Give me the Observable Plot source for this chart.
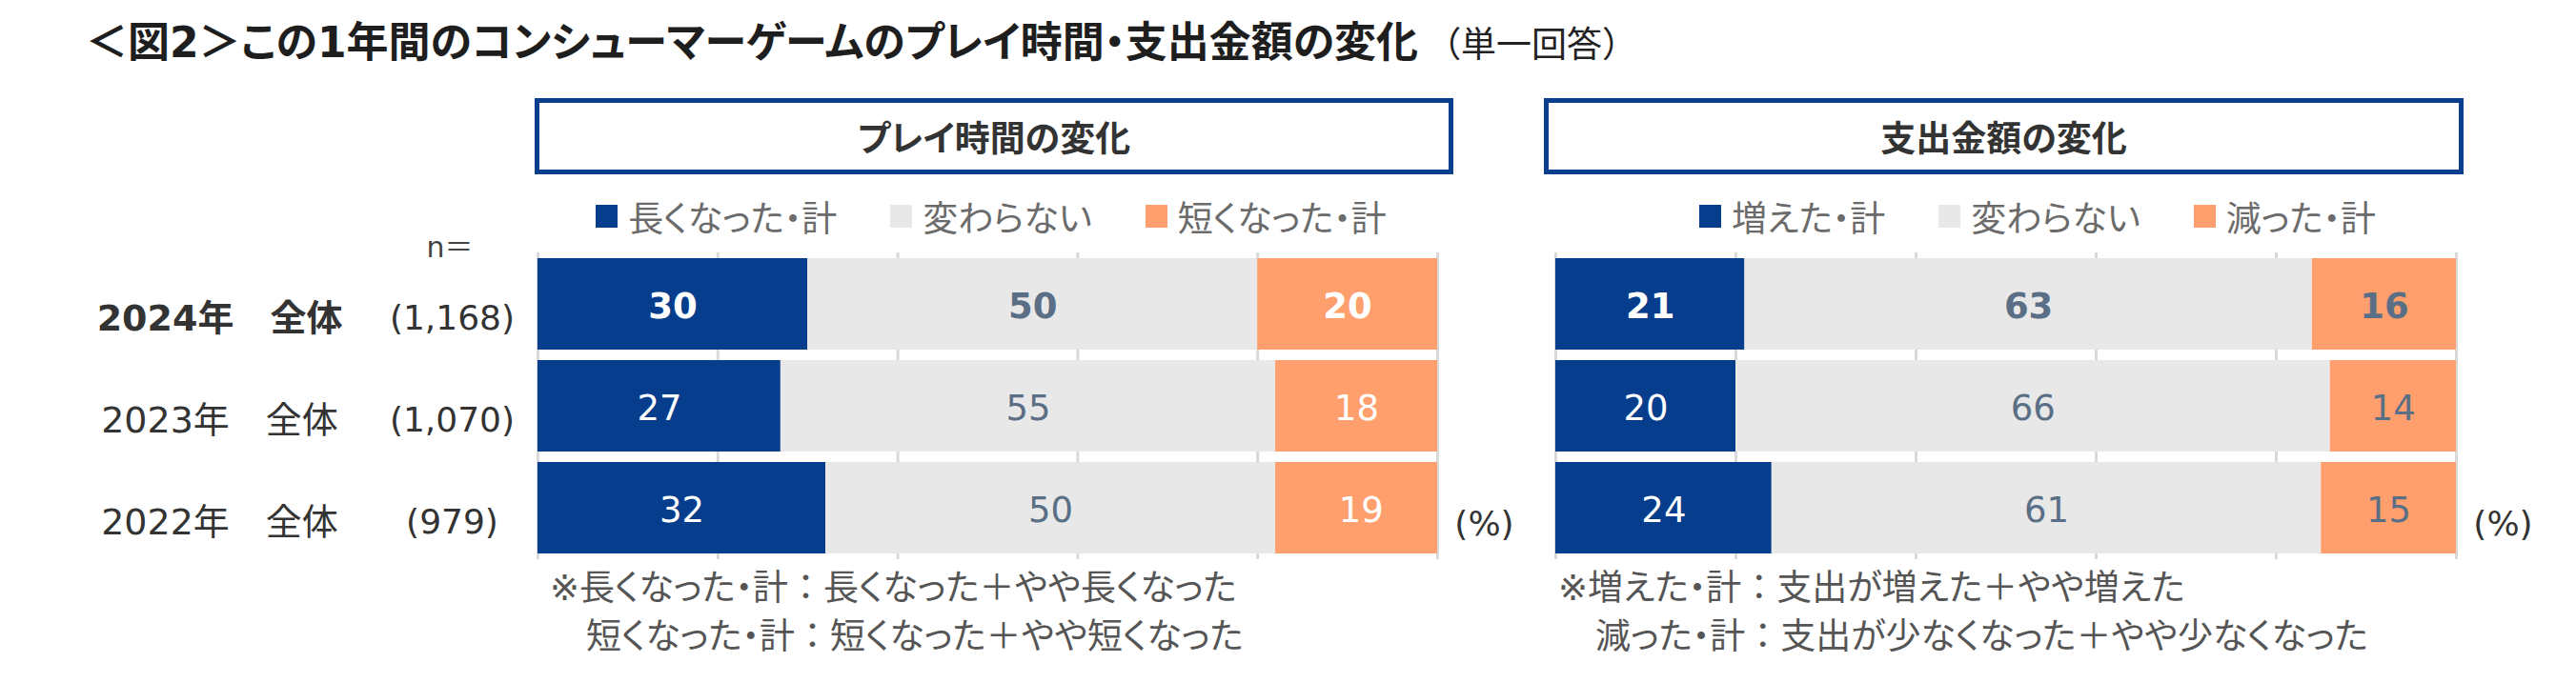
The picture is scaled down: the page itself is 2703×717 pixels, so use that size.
<!DOCTYPE html>
<html><head><meta charset="utf-8">
<script src="https://cdn.jsdelivr.net/npm/d3@7"></script>
<script src="https://cdn.jsdelivr.net/npm/@observablehq/plot@0.6"></script>
<style>
html,body{margin:0;padding:0;background:#fff;}
#root{position:relative;width:2703px;height:717px;overflow:hidden;font-family:"DejaVu Sans","Noto Sans CJK JP",sans-serif;font-feature-settings:"palt" 1;}
.t{position:absolute;display:flex;align-items:center;white-space:pre;line-height:1;}
.full{font-feature-settings:normal;}
</style></head><body><div id="root"></div>
<script>
// ---------- data ----------
const titleText = "＜図2＞この1年間のコンシューマーゲームのプレイ時間・支出金額の変化";
const subTitleText = "（単一回答）";
const rowLabels = ["2024年　全体", "2023年　全体", "2022年　全体"];
const nLabels = ["(1,168)", "(1,070)", "(979)"];
const nHeader = "n＝";
const highlightRow = "2024年　全体";
const unitText = "(%)";
const xTicks = [0, 20, 40, 60, 80, 100];

const playTitle = "プレイ時間の変化";
const playCats = ["長くなった・計", "変わらない", "短くなった・計"];
const playLonger = [30, 27, 32];
const playSame = [50, 55, 50];
const playShorter = [20, 18, 19];
const playNotes = ["※長くなった・計：長くなった＋やや長くなった", "短くなった・計：短くなった＋やや短くなった"];

const spendTitle = "支出金額の変化";
const spendCats = ["増えた・計", "変わらない", "減った・計"];
const spendUp = [21, 20, 24];
const spendSame = [63, 66, 61];
const spendDown = [16, 14, 15];
const spendNotes = ["※増えた・計：支出が増えた＋やや増えた", "減った・計：支出が少なくなった＋やや少なくなった"];

// ---------- styles ----------
const barColors = ["#063d8c", "#e8e8e8", "#ff9f6d"];
const playLabelColors = ["#ffffff", "#5a6f86", "#ffffff"];
const spendLabelColors = ["#ffffff", "#5a6f86", "#5a6f86"];
const FONT = '"DejaVu Sans","Noto Sans CJK JP",sans-serif';
const root = document.getElementById("root");

function table(cats, series) {
  const out = [];
  rowLabels.forEach((r, i) => cats.forEach((c, j) => out.push({row: r, cat: c, ci: j, value: series[j][i]})));
  return out;
}

function panel(data, labelColors, opt) {
  const marks = [
    Plot.ruleX(xTicks, {stroke: "#d9d9d9", strokeWidth: 3, insetTop: 5, insetBottom: 5}),
    Plot.barX(data, Plot.stackX({x: "value", y: "row", z: "cat", fill: d => barColors[d.ci], clip: true}))
  ];
  for (const bold of [true, false]) {
    marks.push(Plot.text(data, Plot.stackX({
      x: "value", y: "row", z: "cat", text: d => String(d.value),
      fill: d => labelColors[d.ci], filter: d => (d.row === highlightRow) === bold,
      fontWeight: bold ? "bold" : "normal", fontSize: 37, dy: 3
    })));
  }
  if (opt.rowLabels) {
    const rows = rowLabels.map((r, i) => ({row: r, n: nLabels[i]}));
    for (const bold of [true, false]) {
      marks.push(Plot.text(rows, {frameAnchor: "left", y: "row", text: "row", dx: -334, dy: 15,
        textAnchor: "middle", fill: "#333", fontSize: 38, fontWeight: bold ? "bold" : "normal",
        filter: d => (d.row === highlightRow) === bold}));
    }
    marks.push(Plot.text(rows, {frameAnchor: "left", y: "row", text: "n", dx: -90, dy: 15,
      textAnchor: "middle", fill: "#333", fontSize: 36}));
  }
  marks.push(Plot.text([unitText], {frameAnchor: "right", y: () => rowLabels[rowLabels.length - 1], text: d => d,
    dx: 49, dy: 17, textAnchor: "middle", fill: "#333", fontSize: 36}));
  const svg = Plot.plot({
    width: opt.width, height: 345, marginTop: 10, marginBottom: 3,
    marginLeft: opt.marginLeft, marginRight: opt.marginRight,
    x: {domain: [0, 100], axis: null},
    y: {domain: rowLabels, padding: 0.1, axis: null},
    color: {type: "identity"},
    style: {fontFamily: FONT, background: "transparent", overflow: "visible"},
    marks
  });
  svg.style.position = "absolute";
  svg.style.left = opt.left + "px";
  svg.style.top = "250px";
  root.appendChild(svg);
}

panel(table(playCats, [playLonger, playSame, playShorter]), playLabelColors,
  {left: 0, width: 1600, marginLeft: 564, marginRight: 92, rowLabels: true});
panel(table(spendCats, [spendUp, spendSame, spendDown]), spendLabelColors,
  {left: 1600, width: 1103, marginLeft: 32, marginRight: 126, rowLabels: false});

// ---------- html text ----------
function text(str, {left, cy, h = 50, size, weight = "normal", color = "#333", width, center = false, fullPunct = false}) {
  const d = document.createElement("div");
  d.className = "t";
  if (fullPunct) {
    // keep the colon and plus signs at full width, like the original
    str.split(/([：＋])/).forEach(part => {
      const s = document.createElement("span");
      s.textContent = part;
      if (part === "：" || part === "＋") s.className = "full";
      d.appendChild(s);
    });
  } else {
    d.textContent = str;
  }
  Object.assign(d.style, {left: left + "px", top: (cy - h / 2) + "px", height: h + "px",
    fontSize: size + "px", fontWeight: weight, color});
  if (width) { d.style.width = width + "px"; }
  if (center) d.style.justifyContent = "center";
  root.appendChild(d);
  return d;
}

// title
const tdiv = text(titleText, {left: 90, cy: 47, h: 60, size: 44, weight: "bold", color: "#1e1e1e"});
tdiv.style.alignItems = "baseline";
tdiv.style.paddingTop = "6px";
tdiv.style.boxSizing = "border-box";
const sub = document.createElement("span");
sub.textContent = subTitleText;
sub.className = "full";
Object.assign(sub.style, {fontSize: "37px", fontWeight: "normal", marginLeft: "8px", color: "#222"});
tdiv.appendChild(sub);

// panel boxes
function box(str, left, right) {
  const d = document.createElement("div");
  d.textContent = str;
  Object.assign(d.style, {position: "absolute", left: left + "px", top: "103px", width: (right - left) + "px", height: "80px",
    boxSizing: "border-box", border: "5px solid #0a3e8e", display: "flex", alignItems: "center", justifyContent: "center",
    fontSize: "37px", fontWeight: "bold", color: "#333", background: "#fff"});
  root.appendChild(d);
}
box(playTitle, 561, 1525);
box(spendTitle, 1620, 2585);

// legends
function legend(cats, cx) {
  const d = document.createElement("div");
  Object.assign(d.style, {position: "absolute", left: (cx - 600) + "px", width: "1200px", top: "202px", height: "50px",
    display: "flex", alignItems: "center", justifyContent: "center", fontSize: "37px", color: "#6b6b6b", whiteSpace: "pre"});
  cats.forEach((c, i) => {
    const sw = document.createElement("span");
    Object.assign(sw.style, {display: "inline-block", width: "23px", height: "24px", background: barColors[i],
      marginRight: "11px", marginLeft: i ? "56px" : "0"});
    const tx = document.createElement("span");
    tx.textContent = c;
    d.appendChild(sw); d.appendChild(tx);
  });
  root.appendChild(d);
}
legend(playCats, 1040);
legend(spendCats, 2138);

// n=
text(nHeader, {left: 422, width: 100, cy: 260, h: 40, size: 30, color: "#444", center: true});

// footnotes
function notes(lines, left, indent) {
  text(lines[0], {left, cy: 617, h: 50, size: 37, color: "#555", fullPunct: true});
  text(lines[1], {left: left + indent, cy: 668, h: 50, size: 37, color: "#555", fullPunct: true});
}
notes(playNotes, 577, 38);
notes(spendNotes, 1635, 39);
</script></body></html>
